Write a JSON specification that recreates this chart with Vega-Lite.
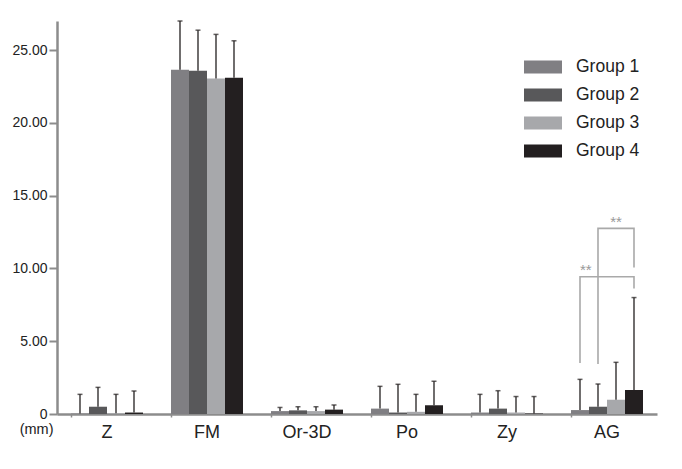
{
  "$schema": "https://vega.github.io/schema/vega-lite/v6.json",
  "width": 600,
  "height": 393,
  "autosize": {"type": "none"},
  "padding": {"left": 57, "top": 21, "right": 25, "bottom": 55},
  "background": "white",
  "config": {
    "view": {"stroke": null},
    "font": "Liberation Sans",
    "axisY": {
      "grid": false,
      "domainColor": "#8c8c8c",
      "domainWidth": 2.5,
      "tickColor": "#8c8c8c",
      "tickWidth": 2,
      "tickSize": 8,
      "labelPadding": 2,
      "labelFontSize": 14,
      "labelColor": "#222222",
      "titleAngle": 0,
      "titleAlign": "right",
      "titleBaseline": "middle",
      "titleX": -4,
      "titleY": 408,
      "titleFontSize": 14.5,
      "titleFontWeight": "normal",
      "titleColor": "#222222"
    },
    "axisX": {
      "domainColor": "#8c8c8c",
      "domainWidth": 2.5,
      "tickColor": "#8c8c8c",
      "tickSize": 3,
      "tickWidth": 1.5,
      "bandPosition": 0,
      "labelFontSize": 18,
      "labelColor": "#222222",
      "labelPadding": 6,
      "labelAngle": 0
    },
    "legend": {
      "orient": "none",
      "legendX": 467,
      "legendY": 27,
      "padding": 0,
      "symbolType": "M-1,-0.342L1,-0.342L1,0.342L-1,0.342Z",
      "symbolSize": 1444,
      "symbolStrokeWidth": 0,
      "symbolOpacity": 1,
      "labelFontSize": 17.5,
      "labelColor": "#222222",
      "labelOffset": 14,
      "rowPadding": -2
    }
  },
  "datasets": {
    "bars": [
      {"cat": "Z", "group": "Group 1", "value": 0.03, "upper": 1.35},
      {"cat": "Z", "group": "Group 2", "value": 0.5, "upper": 1.83},
      {"cat": "Z", "group": "Group 3", "value": 0.05, "upper": 1.35},
      {"cat": "Z", "group": "Group 4", "value": 0.1, "upper": 1.58},
      {"cat": "FM", "group": "Group 1", "value": 23.65, "upper": 27.0},
      {"cat": "FM", "group": "Group 2", "value": 23.58, "upper": 26.37},
      {"cat": "FM", "group": "Group 3", "value": 23.05, "upper": 26.08},
      {"cat": "FM", "group": "Group 4", "value": 23.1, "upper": 25.64},
      {"cat": "Or-3D", "group": "Group 1", "value": 0.2, "upper": 0.45},
      {"cat": "Or-3D", "group": "Group 2", "value": 0.25, "upper": 0.5},
      {"cat": "Or-3D", "group": "Group 3", "value": 0.2, "upper": 0.5},
      {"cat": "Or-3D", "group": "Group 4", "value": 0.3, "upper": 0.62},
      {"cat": "Po", "group": "Group 1", "value": 0.37, "upper": 1.9},
      {"cat": "Po", "group": "Group 2", "value": 0.1, "upper": 2.04},
      {"cat": "Po", "group": "Group 3", "value": 0.15, "upper": 1.35},
      {"cat": "Po", "group": "Group 4", "value": 0.6, "upper": 2.25},
      {"cat": "Zy", "group": "Group 1", "value": 0.1, "upper": 1.35},
      {"cat": "Zy", "group": "Group 2", "value": 0.37, "upper": 1.6},
      {"cat": "Zy", "group": "Group 3", "value": 0.1, "upper": 1.2},
      {"cat": "Zy", "group": "Group 4", "value": 0.03, "upper": 1.2},
      {"cat": "AG", "group": "Group 1", "value": 0.27, "upper": 2.38},
      {"cat": "AG", "group": "Group 2", "value": 0.5, "upper": 2.06},
      {"cat": "AG", "group": "Group 3", "value": 0.98, "upper": 3.55},
      {"cat": "AG", "group": "Group 4", "value": 1.65, "upper": 8.0}
    ],
    "brackets": [
      {"bracket": "a", "ord": 1, "cat": "AG", "group": "Group 1", "y": 3.5},
      {"bracket": "a", "ord": 2, "cat": "AG", "group": "Group 1", "y": 9.43},
      {"bracket": "a", "ord": 3, "cat": "AG", "group": "Group 4", "y": 9.43},
      {"bracket": "a", "ord": 4, "cat": "AG", "group": "Group 4", "y": 8.63},
      {"bracket": "b", "ord": 1, "cat": "AG", "group": "Group 2", "y": 3.43},
      {"bracket": "b", "ord": 2, "cat": "AG", "group": "Group 2", "y": 12.75},
      {"bracket": "b", "ord": 3, "cat": "AG", "group": "Group 4", "y": 12.75},
      {"bracket": "b", "ord": 4, "cat": "AG", "group": "Group 4", "y": 10.07}
    ],
    "starsLow": [{"cat": "AG", "group": "Group 1", "y": 9.9, "label": "**"}],
    "starsHigh": [{"cat": "AG", "group": "Group 3", "y": 13.2, "label": "**"}]
  },
  "encoding": {
    "x": {
      "field": "cat",
      "type": "nominal",
      "sort": ["Z", "FM", "Or-3D", "Po", "Zy", "AG"],
      "scale": {"paddingInner": 0.28, "paddingOuter": 0.14},
      "title": null
    },
    "xOffset": {
      "field": "group",
      "type": "nominal",
      "sort": ["Group 1", "Group 2", "Group 3", "Group 4"],
      "scale": {"paddingInner": 0, "paddingOuter": 0}
    }
  },
  "layer": [
    {
      "data": {"name": "bars"},
      "mark": {"type": "bar", "strokeWidth": 0},
      "encoding": {
        "y": {
          "field": "value",
          "type": "quantitative",
          "title": "(mm)",
          "scale": {"domain": [0, 27], "nice": false},
          "axis": {
            "values": [0, 5, 10, 15, 20, 25],
            "labelExpr": "datum.value == 0 ? '0' : format(datum.value, '.2f')"
          }
        },
        "color": {
          "field": "group",
          "type": "nominal",
          "title": null,
          "scale": {
            "domain": ["Group 1", "Group 2", "Group 3", "Group 4"],
            "range": ["#807f83", "#58585a", "#a7a8ab", "#231f20"]
          }
        }
      }
    },
    {
      "data": {"name": "bars"},
      "mark": {"type": "rule", "color": "#231f20", "strokeWidth": 1.3},
      "encoding": {
        "y": {"field": "value", "type": "quantitative", "title": "(mm)"},
        "y2": {"field": "upper"}
      }
    },
    {
      "data": {"name": "bars"},
      "mark": {"type": "tick", "orient": "horizontal", "size": 5, "thickness": 1.5, "color": "#231f20"},
      "encoding": {
        "y": {"field": "upper", "type": "quantitative", "title": "(mm)"}
      }
    },
    {
      "data": {"name": "brackets"},
      "mark": {"type": "line", "color": "#a9a9a9", "strokeWidth": 1.6},
      "encoding": {
        "y": {"field": "y", "type": "quantitative", "title": "(mm)"},
        "detail": {"field": "bracket"},
        "order": {"field": "ord", "type": "quantitative"}
      }
    },
    {
      "data": {"name": "starsLow"},
      "mark": {"type": "text", "align": "left", "baseline": "middle", "fontSize": 15, "color": "#999999"},
      "encoding": {
        "y": {"field": "y", "type": "quantitative", "title": "(mm)"},
        "text": {"field": "label"}
      }
    },
    {
      "data": {"name": "starsHigh"},
      "mark": {"type": "text", "align": "center", "baseline": "middle", "fontSize": 15, "color": "#999999"},
      "encoding": {
        "y": {"field": "y", "type": "quantitative", "title": "(mm)"},
        "text": {"field": "label"}
      }
    }
  ]
}
